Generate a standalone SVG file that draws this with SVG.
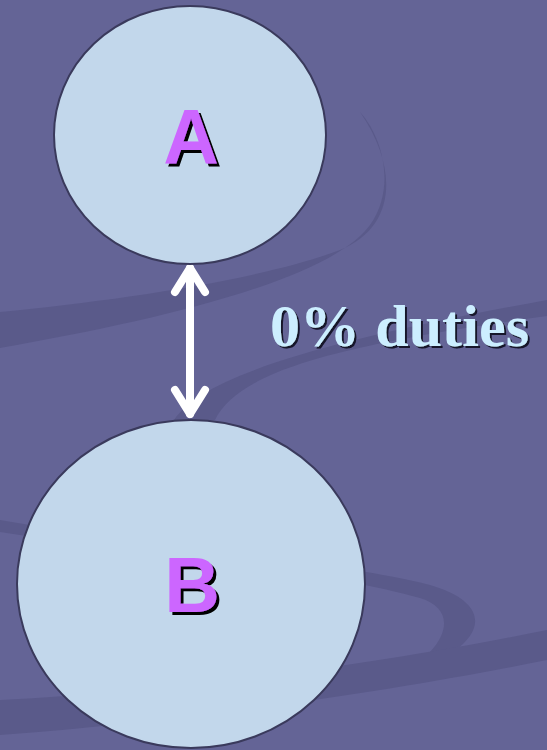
<svg xmlns="http://www.w3.org/2000/svg" width="547" height="750" viewBox="0 0 547 750">
<defs>
<filter id="shA" x="-20%" y="-20%" width="140%" height="140%">
<feDropShadow dx="3" dy="3" stdDeviation="0" flood-color="#000" flood-opacity="1"/>
</filter>
<filter id="shT" x="-10%" y="-20%" width="120%" height="140%">
<feDropShadow dx="2" dy="2" stdDeviation="0.3" flood-color="#14142a" flood-opacity="1"/>
</filter>
</defs>
<style>
.node{fill:#c2d7eb;stroke:#3a3a5c;stroke-width:2}
.lbl{font-family:"Liberation Sans",Arial,sans-serif;font-weight:bold;font-size:77px;text-anchor:middle;fill:#cc66ff;filter:url(#shA)}
.swoosh{fill:#5a5a8a}
.conn{stroke:#ffffff;stroke-width:8;fill:none;stroke-linecap:round;stroke-linejoin:round}
.txt{font-family:"Liberation Serif","Times New Roman",serif;font-weight:bold;font-size:60px;fill:#cceeff;filter:url(#shT)}
</style>
<rect width="547" height="750" fill="#646496"/>
<g id="background">
<path class="swoosh" d="M0,312 C120,300 260,280 340,250 C395,228 400,170 360,112 C385,140 395,190 370,225 C330,280 160,320 0,348 Z"/>
<path class="swoosh" d="M174,420 C200,380 300,345 547,300 L547,316 C340,345 240,370 215,420 Z"/>
<path class="swoosh" d="M0,520 C140,545 330,560 430,585 C500,605 490,650 390,680 C450,650 460,610 420,598 C330,572 150,555 0,532 Z"/>
<path class="swoosh" d="M0,700 C200,690 400,660 547,630 L547,660 C400,690 200,720 0,735 Z"/>
</g>
<g id="connectors">
<line class="conn" x1="190" y1="268" x2="190" y2="414"/>
<polyline class="conn" points="175,292 190,268 205,292"/>
<polyline class="conn" points="175,390 190,414 205,390"/>
<text class="txt" x="270" y="346" textLength="259" lengthAdjust="spacing">0% duties</text>
</g>
<g id="nodeA">
<ellipse class="node" cx="190" cy="135" rx="136" ry="129"/>
<text class="lbl" x="191" y="164">A</text>
</g>
<g id="nodeB">
<ellipse class="node" cx="191" cy="584" rx="174" ry="164"/>
<text class="lbl" x="192" y="612">B</text>
</g>
</svg>
